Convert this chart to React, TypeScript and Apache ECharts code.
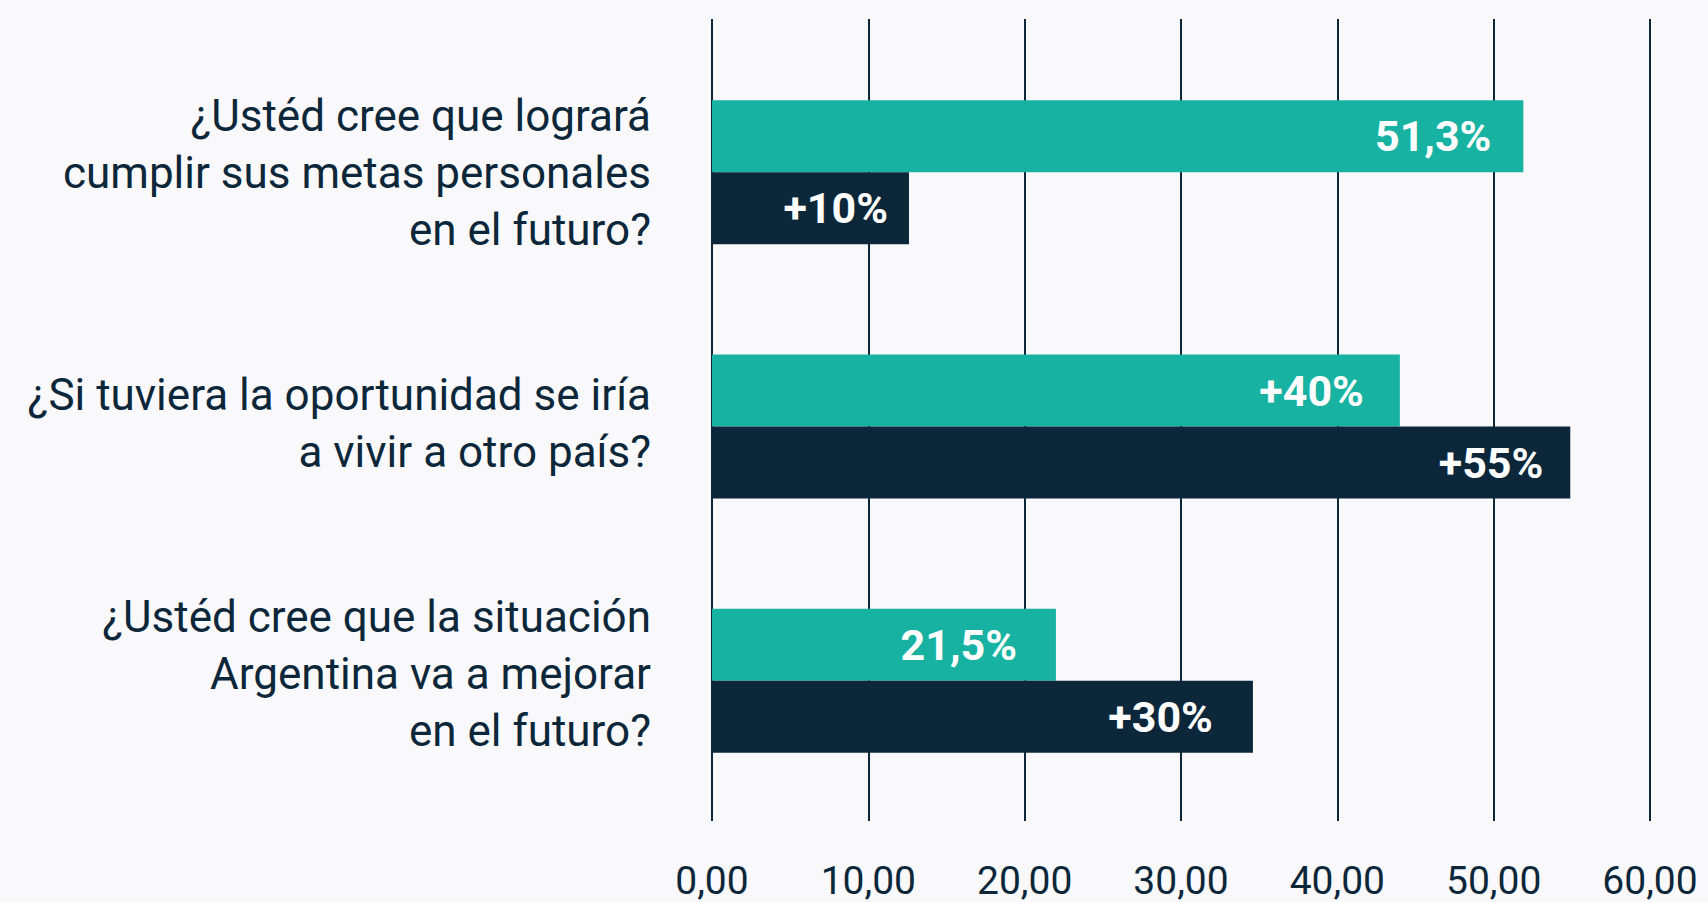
import React, { useEffect, useRef } from "react";
import * as echarts from "echarts";

const categories: string[] = [
  "¿Ustéd cree que logrará\ncumplir sus metas personales\nen el futuro?",
  "¿Si tuviera la oportunidad se iría\na vivir a otro país?",
  "¿Ustéd cree que la situación\nArgentina va a mejorar\nen el futuro?",
];
const tealValues: number[] = [51.9, 44.0, 22.0];
const tealLabels: string[] = ["51,3%", "+40%", "21,5%"];
const darkValues: number[] = [12.6, 54.9, 34.6];
const darkLabels: string[] = ["+10%", "+55%", "+30%"];
const axisMin = 0;
const axisMax = 60;
const axisInterval = 10;

// label inset from bar end (style only)
const tealInset: number[] = [32, 36, 39];
const darkInset: number[] = [21, 27, 40];

const TEAL = "#18b2a2";
const DARK = "#0c273a";
const BG = "#f9f9fb";
const FONT = "Roboto, 'Noto Sans', sans-serif";

export default function App() {
  const ref = useRef<HTMLDivElement>(null);
  useEffect(() => {
    if (!ref.current) return;
    const chart = echarts.init(ref.current, undefined, { renderer: "svg" });
    const labelStyle = (text: string, inset: number) => ({
      show: true,
      position: "insideRight" as const,
      distance: inset,
      color: "#ffffff",
      fontFamily: FONT,
      fontWeight: "bold" as const,
      fontSize: 43,
      formatter: text,
    });
    chart.setOption({
      animation: false,
      backgroundColor: BG,
      grid: [
        { left: 712, right: 58, top: 45, bottom: 94 },
        { left: 712, right: 58, top: 19, bottom: 81 },
        { left: 712, right: 58, top: 48, bottom: 103 },
      ],
      xAxis: [
        { type: "value", gridIndex: 0, min: axisMin, max: axisMax, interval: axisInterval, show: false },
        {
          type: "value",
          gridIndex: 1,
          min: axisMin,
          max: axisMax,
          interval: axisInterval,
          axisLine: { show: false },
          axisTick: { show: false },
          splitLine: { show: true, lineStyle: { color: DARK, width: 2 } },
          axisLabel: {
            margin: 40,
            fontSize: 39,
            fontFamily: FONT,
            color: DARK,
            formatter: (v: number) => v.toFixed(2).replace(".", ","),
          },
        },
        { type: "value", gridIndex: 2, min: axisMin, max: axisMax, show: false },
      ],
      yAxis: [
        {
          type: "category",
          gridIndex: 0,
          data: categories,
          inverse: true,
          axisLine: { show: false },
          axisTick: { show: false },
          splitLine: { show: false },
          axisLabel: { show: false },
        },
        { type: "value", gridIndex: 1, show: false },
        {
          type: "category",
          gridIndex: 2,
          data: categories,
          inverse: true,
          axisLine: { show: false },
          axisTick: { show: false },
          splitLine: { show: false },
          axisLabel: {
            margin: 61,
            fontSize: 44,
            lineHeight: 57,
            fontFamily: FONT,
            color: DARK,
            align: "right",
          },
        },
      ],
      series: [
        {
          type: "bar",
          xAxisIndex: 0,
          yAxisIndex: 0,
          barWidth: 72,
          barGap: "0%",
          itemStyle: { color: TEAL },
          data: tealValues.map((v, i) => ({ value: v, label: labelStyle(tealLabels[i], tealInset[i]) })),
          z: 3,
        },
        {
          type: "bar",
          xAxisIndex: 0,
          yAxisIndex: 0,
          barWidth: 72,
          barGap: "0%",
          itemStyle: { color: DARK },
          data: darkValues.map((v, i) => ({ value: v, label: labelStyle(darkLabels[i], darkInset[i]) })),
          z: 3,
        },
      ],
    });
    return () => chart.dispose();
  }, []);
  return (
    <div
      ref={ref}
      style={{ position: "fixed", left: 0, top: 0, width: 1708, height: 902, background: BG }}
    />
  );
}
